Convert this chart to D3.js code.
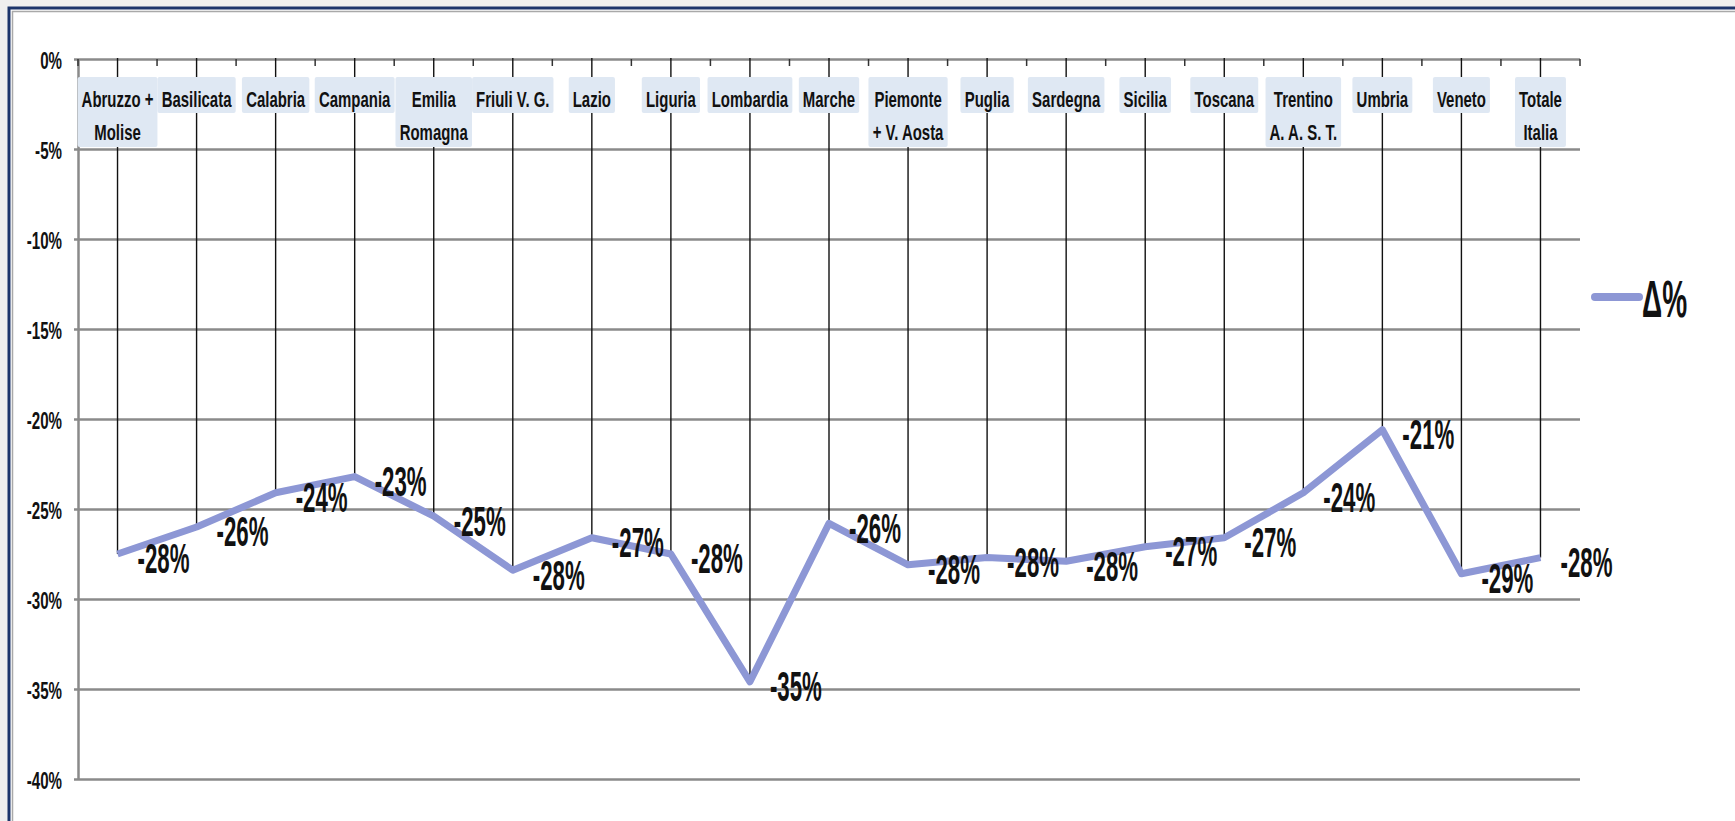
<!DOCTYPE html>
<html>
<head>
<meta charset="utf-8">
<script src="https://cdn.jsdelivr.net/npm/d3@7"></script>
<style>
  body { margin: 0; background: #efefef; }
  #chart { width: 1735px; height: 821px; }
  text { font-family: "Liberation Sans", Arial, sans-serif; font-weight: bold; fill: #111; }
</style>
</head>
<body>
<div id="chart"></div>
<script>

// regions (line breaks as in the picture)
const categories = [
    "Abruzzo +\nMolise", "Basilicata", "Calabria", "Campania", "Emilia\nRomagna",
    "Friuli V. G.", "Lazio", "Liguria", "Lombardia", "Marche",
    "Piemonte\n+ V. Aosta", "Puglia", "Sardegna", "Sicilia", "Toscana",
    "Trentino\nA. A. S. T.", "Umbria", "Veneto", "Totale\nItalia"
];

// Δ% per region
const values = [
    -0.275, -0.260, -0.241, -0.232, -0.254,
    -0.284, -0.266, -0.275, -0.346, -0.258,
    -0.281, -0.277, -0.279, -0.271, -0.266,
    -0.241, -0.206, -0.286, -0.277
];

const yTicks = [0, -0.05, -0.10, -0.15, -0.20, -0.25, -0.30, -0.35, -0.40];
const seriesName = "Δ%";

const lineColor = "#8d97d5";

var width = 1735;
var height = 821;

var svg = d3.select("#chart")
    .append("svg")
    .attr("width", width)
    .attr("height", height);

// white panel with the navy frame
svg.append("rect")
    .attr("x", 9).attr("y", 8)
    .attr("width", width + 20).attr("height", height + 20)
    .attr("fill", "#fff")
    .attr("stroke", "#1c346b")
    .attr("stroke-width", 3);
svg.append("path")
    .attr("d", `M12.5,${height} V11.5 H${width}`)
    .attr("fill", "none")
    .attr("stroke", "#a9a9a9")
    .attr("stroke-width", 1.5);

var plotLeft = 78, plotRight = 1580, plotTop = 59, plotBottom = 779;

var xScale = d3.scaleBand()
    .domain(categories)
    .range([plotLeft, plotRight]);

var yScale = d3.scaleLinear()
    .domain([-0.40, 0])
    .range([plotBottom, plotTop]);

var pct = function (v) { return Math.round(v * 100) + "%"; };

// gridlines + y labels
var yAxis = svg.append("g")
    .attr("transform", `translate(${plotLeft},0)`)
    .call(d3.axisLeft(yScale)
        .tickValues(yTicks)
        .tickSize(-(plotRight - plotLeft))
        .tickSizeOuter(0)
        .tickPadding(0)
        .tickFormat(pct));

yAxis.select(".domain")
    .attr("stroke", "#8a8a8a")
    .attr("stroke-width", 2.5);
yAxis.selectAll(".tick line")
    .attr("x1", -4)
    .attr("stroke", "#8a8a8a")
    .attr("stroke-width", 2.5);
yAxis.selectAll(".tick text")
    .attr("x", null)
    .attr("dy", null)
    .attr("dominant-baseline", "central")
    .attr("transform", "translate(-16,1) scale(0.63,1)")
    .style("font-size", "24px")
    .style("font-family", "'Liberation Sans', Arial, sans-serif")
    .style("font-weight", "bold")
    .attr("fill", "#111");

// small ticks on the category axis (at the band edges)
var edges = categories.map(function (c) { return xScale(c); }).concat([plotRight]);
svg.append("g")
    .selectAll("line")
    .data(edges)
    .join("line")
    .attr("x1", d => d).attr("x2", d => d)
    .attr("y1", plotTop).attr("y2", plotTop + 7)
    .attr("stroke", "#333")
    .attr("stroke-width", 1.5);

var cx = function (c) { return xScale(c) + xScale.bandwidth() / 2; };

// drop lines from the axis down to each point
svg.append("g")
    .selectAll("line")
    .data(categories)
    .join("line")
    .attr("x1", d => cx(d)).attr("x2", d => cx(d))
    .attr("y1", plotTop - 1)
    .attr("y2", (d, i) => yScale(values[i]))
    .attr("stroke", "#111")
    .attr("stroke-width", 1.4);

// category labels with their pale blue boxes
var catG = svg.append("g")
    .selectAll("g")
    .data(categories)
    .join("g")
    .attr("transform", d => `translate(${cx(d)},0)`);

catG.each(function (d) {
    var g = d3.select(this);
    var lines = d.split("\n");
    var box = g.append("rect")
        .attr("fill", "#dfe8f3")
        .attr("rx", 2);
    var t = g.append("text")
        .attr("text-anchor", "middle")
        .attr("transform", "scale(0.68,1)")
        .style("font-size", "22px");
    lines.forEach(function (l, i) {
        t.append("tspan")
            .attr("x", 0)
            .attr("y", 107 + i * 33)
            .text(l);
    });
    var bb = t.node().getBBox();
    var w = bb.width * 0.68 + 8;
    box.attr("x", -w / 2)
        .attr("width", w)
        .attr("y", 77)
        .attr("height", 36 + (lines.length - 1) * 34);
});

// the series line
var line = d3.line()
    .x((d, i) => cx(categories[i]))
    .y(d => yScale(d));

svg.append("path")
    .datum(values)
    .attr("d", line)
    .attr("fill", "none")
    .attr("stroke", lineColor)
    .attr("stroke-width", 7)
    .attr("stroke-linejoin", "round");

// data labels, right of each point
svg.append("g")
    .selectAll("text")
    .data(values)
    .join("text")
    .attr("transform", (d, i) => `translate(${cx(categories[i]) + 20},${yScale(d) + 5}) scale(0.53,1)`)
    .attr("dominant-baseline", "central")
    .style("font-size", "42px")
    .text(d => pct(d));

// legend
var legend = svg.append("g")
    .attr("transform", "translate(1595,297)");
legend.append("line")
    .attr("x1", 0).attr("x2", 44)
    .attr("stroke", lineColor)
    .attr("stroke-width", 8)
    .attr("stroke-linecap", "round");
legend.append("text")
    .attr("transform", "translate(47,3) scale(0.55,1)")
    .attr("dominant-baseline", "central")
    .style("font-size", "51px")
    .text(seriesName);

</script>
</body>
</html>
